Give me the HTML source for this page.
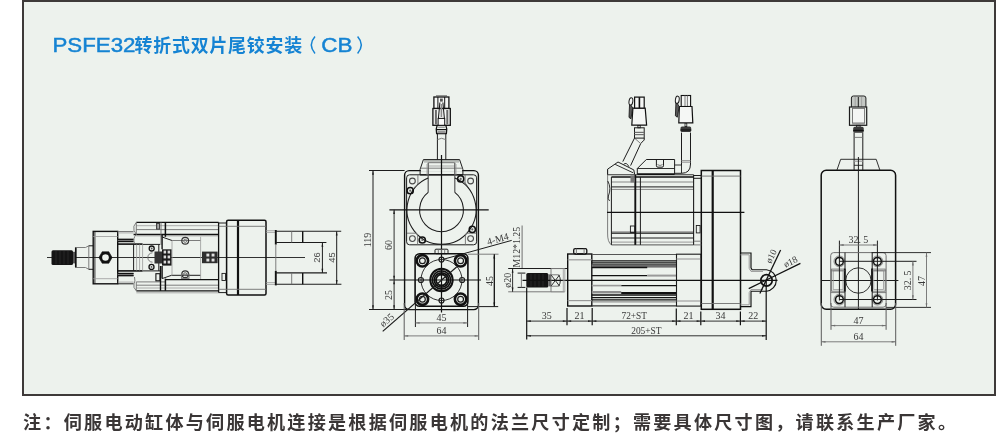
<!DOCTYPE html>
<html lang="zh-CN">
<head>
<meta charset="utf-8">
<title>PSFE32转折式双片尾铰安装（CB）</title>
<style>
html,body{margin:0;padding:0;background:#fff;}
body{width:1002px;height:434px;overflow:hidden;position:relative;font-family:"Liberation Sans",sans-serif;}
#frame{position:absolute;left:22px;top:0;width:970px;height:392px;border:2px solid #3e3a39;background:#edf2ed;}
svg{position:absolute;left:0;top:0;display:block;will-change:transform;}
svg path,svg line,svg rect,svg circle{stroke-linecap:butt;}
.t{position:absolute;margin:0;white-space:nowrap;color:transparent;font-family:"Liberation Sans",sans-serif;}
#title{left:54px;top:34px;font-size:17px;letter-spacing:1.9px;}
#note{left:23px;top:411px;font-size:17px;letter-spacing:3.33px;font-weight:bold;}
</style>
</head>
<body>
<div id="frame"></div>
<h1 class="t" id="title">PSFE32转折式双片尾铰安装（CB）</h1>
<p class="t" id="note">注：伺服电动缸体与伺服电机连接是根据伺服电机的法兰尺寸定制；需要具体尺寸图，请联系生产厂家。</p>
<svg width="1002" height="434" viewBox="0 0 1002 434" fill="none">
<text x="52.5" y="51.8" font-family="'Liberation Sans', serif" font-size="19.3" text-anchor="start" fill="#1583d3" textLength="83" lengthAdjust="spacingAndGlyphs" stroke="#1583d3" stroke-width="0.45">PSFE32</text>
<text x="134.5" y="51.8" font-family="'Liberation Sans', 'Noto Sans CJK SC', sans-serif" font-size="17.9" font-weight="bold" text-anchor="start" fill="#1583d3" textLength="167.7" lengthAdjust="spacing">转折式双片尾铰安装</text>
<path d="M315 36.6Q307.6 45 315 53.4" fill="none" stroke="#1583d3" stroke-width="1.5" />
<path d="M357.6 36.6Q365 45 357.6 53.4" fill="none" stroke="#1583d3" stroke-width="1.5" />
<text x="321.3" y="51.8" font-family="'Liberation Sans', serif" font-size="19.3" text-anchor="start" fill="#1583d3" textLength="31.2" lengthAdjust="spacingAndGlyphs" stroke="#1583d3" stroke-width="0.45">CB</text>
<text x="23.1" y="428.9" font-family="'Liberation Sans', 'Noto Sans CJK SC', sans-serif" font-size="18.1" font-weight="bold" text-anchor="start" fill="#3a3636" textLength="932.9" lengthAdjust="spacing">注：伺服电动缸体与伺服电机连接是根据伺服电机的法兰尺寸定制；需要具体尺寸图，请联系生产厂家。</text>
<path d="M47 257.5L305 257.5" stroke="#1c1c1c" stroke-width="0.9"/>
<rect x="51.5" y="250.2" width="21.5" height="14.8" rx="1.5" fill="#141414"/>
<path d="M56 251L56 264.3" stroke="#3a3a3a" stroke-width="0.5"/>
<path d="M60 251L60 264.3" stroke="#3a3a3a" stroke-width="0.5"/>
<path d="M64 251L64 264.3" stroke="#3a3a3a" stroke-width="0.5"/>
<path d="M68 251L68 264.3" stroke="#3a3a3a" stroke-width="0.5"/>
<rect x="73" y="251.8" width="2.3" height="11.6" fill="#555"/>
<path d="M75.8 247.3L75.8 267.6" stroke="#111" stroke-width="1.7"/>
<path d="M75.8 247.5L85.5 247.5" stroke="#6f6f6f" stroke-width="0.9"/>
<path d="M75.8 267.5L85.5 267.5" stroke="#6f6f6f" stroke-width="0.9"/>
<path d="M85.5 247.5L88.8 245.8" stroke="#6f6f6f" stroke-width="0.9"/>
<path d="M85.5 267.5L88.8 269.3" stroke="#6f6f6f" stroke-width="0.9"/>
<path d="M88.8 245.8L88.8 269.3" stroke="#6f6f6f" stroke-width="0.9"/>
<path d="M88.8 245.8L93.2 245.8" stroke="#1c1c1c" stroke-width="1"/>
<path d="M88.8 269.3L93.2 269.3" stroke="#1c1c1c" stroke-width="1"/>
<rect x="93.2" y="231.4" width="24.5" height="52.4" fill="none" stroke="#111" stroke-width="1.4"/>
<path d="M94.9 231.4L94.9 283.8" stroke="#1c1c1c" stroke-width="0.9"/>
<path d="M93.2 236.5L117.7 236.5" stroke="#999" stroke-width="0.8"/>
<path d="M93.2 278.7L117.7 278.7" stroke="#999" stroke-width="0.8"/>
<path d="M112.1 257.5L108.8 263.22L102.2 263.22L98.9 257.5L102.2 251.78L108.8 251.78Z" fill="#111" stroke="#111" stroke-width="0.6" />
<circle cx="105.5" cy="257.5" r="3.3" fill="#edf2ed"/>
<path d="M117.7 232.9L133.6 232.9" stroke="#999" stroke-width="0.8"/>
<path d="M117.7 282.1L133.6 282.1" stroke="#999" stroke-width="0.8"/>
<rect x="117.7" y="239.2" width="15.9" height="2.6" fill="#777"/>
<rect x="117.7" y="273.2" width="15.9" height="2.6" fill="#777"/>
<path d="M117.7 239.3L133.6 239.3" stroke="#111" stroke-width="1.3"/>
<path d="M117.7 241.6L133.6 241.6" stroke="#111" stroke-width="1.2"/>
<path d="M117.7 275.7L133.6 275.7" stroke="#111" stroke-width="1.3"/>
<path d="M117.7 273.4L133.6 273.4" stroke="#111" stroke-width="1.2"/>
<path d="M117.7 244.1L142.6 244.1" stroke="#111" stroke-width="1.6"/>
<path d="M117.7 270.9L142.6 270.9" stroke="#111" stroke-width="1.6"/>
<path d="M117.7 283.8L133.6 283.8" stroke="#1c1c1c" stroke-width="1"/>
<path d="M117.7 231.5L133.6 231.5" stroke="#6f6f6f" stroke-width="0.9"/>
<path d="M142.6 244.4L160 244.4" stroke="#1c1c1c" stroke-width="1"/>
<path d="M142.6 270.9L160 270.9" stroke="#1c1c1c" stroke-width="1"/>
<path d="M133.6 244.1L133.6 270.9" stroke="#1c1c1c" stroke-width="1"/>
<path d="M136.6 244.5L136.6 270.5" stroke="#999" stroke-width="0.8"/>
<path d="M139.6 244.5L139.6 270.5" stroke="#999" stroke-width="0.8"/>
<path d="M142.6 244.5L142.6 270.5" stroke="#999" stroke-width="0.8"/>
<path d="M136.3 222.4L218.6 222.4" stroke="#111" stroke-width="1.3"/>
<path d="M136.3 290.8L218.6 290.8" stroke="#111" stroke-width="1.3"/>
<path d="M136.3 225.7L218.6 225.7" stroke="#999" stroke-width="0.8"/>
<path d="M136.3 229.6L218.6 229.6" stroke="#6f6f6f" stroke-width="0.9"/>
<path d="M133.6 234.5L218.6 234.5" stroke="#111" stroke-width="1.4"/>
<path d="M136.3 235.9L218.6 235.9" stroke="#999" stroke-width="0.8"/>
<path d="M136.3 288L218.6 288" stroke="#999" stroke-width="0.8"/>
<path d="M136.3 285.2L218.6 285.2" stroke="#6f6f6f" stroke-width="0.9"/>
<path d="M165.4 279.7L218.6 279.7" stroke="#111" stroke-width="1.3"/>
<path d="M136.3 281.9L165.4 281.9" stroke="#6f6f6f" stroke-width="0.9"/>
<path d="M136.3 292.8L218.6 292.8" stroke="#999" stroke-width="0.8"/>
<path d="M136.3 222.4Q132.6 226 134 230.5Q135.6 233 136.3 234.5Q132.6 238 134.5 243.6" fill="none" stroke="#6f6f6f" stroke-width="0.9" />
<path d="M136.3 290.8Q132.8 287.5 134 283.8Q135.6 281.5 134.5 277" fill="none" stroke="#6f6f6f" stroke-width="0.9" />
<path d="M136.3 222.4L136.3 234.5" stroke="#6f6f6f" stroke-width="0.9"/>
<path d="M136.3 281.9L136.3 290.8" stroke="#6f6f6f" stroke-width="0.9"/>
<path d="M165.4 222.4L165.4 236.8" stroke="#111" stroke-width="1.5"/>
<path d="M165.4 278.6L165.4 290.8" stroke="#111" stroke-width="1.5"/>
<path d="M161 222.4L161 245" stroke="#6f6f6f" stroke-width="0.9"/>
<path d="M160.5 266L160.5 290.8" stroke="#111" stroke-width="1.4"/>
<rect x="156" y="223" width="4" height="6.6" fill="#444"/>
<rect x="157.2" y="224" width="1.8" height="4.6" fill="#aaa"/>
<rect x="155.9" y="273.7" width="4.1" height="7.1" fill="none" stroke="#111" stroke-width="1.1"/>
<path d="M158.8 244.4L158.8 270.9" stroke="#1c1c1c" stroke-width="1"/>
<path d="M162.1 234.5L162.1 249.3" stroke="#111" stroke-width="1.4"/>
<path d="M162.1 266L162.1 278.6" stroke="#111" stroke-width="1.4"/>
<path d="M162.1 237L172 240.5" stroke="#1c1c1c" stroke-width="1"/>
<path d="M162.1 278.6L171.5 275.3" stroke="#1c1c1c" stroke-width="1"/>
<path d="M172 240.5L200.6 240.5" stroke="#6f6f6f" stroke-width="0.9"/>
<path d="M171.5 275.3L200.6 275.3" stroke="#1c1c1c" stroke-width="1"/>
<path d="M172 240.5L172 275.3" stroke="#999" stroke-width="0.8"/>
<path d="M200.6 236.8L200.6 279" stroke="#999" stroke-width="0.8"/>
<circle cx="151.7" cy="248.5" r="2.5" fill="none" stroke="#111" stroke-width="1.3"/>
<circle cx="151.7" cy="248.5" r="0.9" fill="#555"/>
<circle cx="151.5" cy="266.9" r="2.5" fill="none" stroke="#111" stroke-width="1.3"/>
<circle cx="151.5" cy="266.9" r="0.9" fill="#555"/>
<circle cx="185.2" cy="240.8" r="3.4" fill="none" stroke="#333" stroke-width="1.2"/>
<circle cx="185.2" cy="240.8" r="1.6" fill="none" stroke="#6f6f6f" stroke-width="0.9"/>
<circle cx="185.2" cy="274.2" r="3.4" fill="none" stroke="#333" stroke-width="1.2"/>
<circle cx="185.2" cy="274.2" r="1.6" fill="none" stroke="#6f6f6f" stroke-width="0.9"/>
<rect x="181.4" y="274.2" width="7.6" height="4.2" fill="none" stroke="#6f6f6f" stroke-width="0.9"/>
<path d="M152.5 252.8A4.7 4.7 0 0 0 152.5 262.2" fill="none" stroke="#6f6f6f" stroke-width="0.9" />
<rect x="154.5" y="251.5" width="8" height="12" fill="#333"/>
<rect x="162" y="249.3" width="9.5" height="16.3" fill="#1a1a1a"/>
<rect x="163.6" y="250.6" width="2.5" height="2.9" fill="#d8d8d8"/>
<rect x="167.6" y="250.6" width="2.5" height="2.9" fill="#d8d8d8"/>
<rect x="163.6" y="255.5" width="2.5" height="2.9" fill="#d8d8d8"/>
<rect x="167.6" y="255.5" width="2.5" height="2.9" fill="#d8d8d8"/>
<rect x="163.6" y="260.6" width="2.5" height="2.9" fill="#d8d8d8"/>
<rect x="167.6" y="260.6" width="2.5" height="2.9" fill="#d8d8d8"/>
<rect x="202" y="251.6" width="15.6" height="11.6" fill="#2e2e2e"/>
<rect x="206.4" y="253.6" width="2.9" height="2.9" fill="#e0e0e0"/>
<rect x="211.6" y="253.6" width="2.9" height="2.9" fill="#e0e0e0"/>
<rect x="206.4" y="258.6" width="2.9" height="2.9" fill="#e0e0e0"/>
<rect x="211.6" y="258.6" width="2.9" height="2.9" fill="#e0e0e0"/>
<path d="M218.6 222.4L218.6 292.6" stroke="#111" stroke-width="1.3"/>
<path d="M218.6 223L226.6 223" stroke="#1c1c1c" stroke-width="1"/>
<path d="M218.6 292.6L226.6 292.6" stroke="#1c1c1c" stroke-width="1"/>
<rect x="226.6" y="220.2" width="39.4" height="74.8" rx="1.5" fill="none" stroke="#111" stroke-width="1.5"/>
<path d="M238 220.2L238 295" stroke="#111" stroke-width="2.2"/>
<path d="M218.6 226.3L266 226.3" stroke="#6f6f6f" stroke-width="0.9"/>
<path d="M218.6 289.3L266 289.3" stroke="#6f6f6f" stroke-width="0.9"/>
<rect x="222" y="273.4" width="3.5" height="7.1" fill="none" stroke="#1c1c1c" stroke-width="0.9"/>
<path d="M266 230.7L275.8 230.7" stroke="#999" stroke-width="0.8"/>
<path d="M266 232.4L275.8 232.4" stroke="#999" stroke-width="0.8"/>
<path d="M266 282.6L275.8 282.6" stroke="#999" stroke-width="0.8"/>
<path d="M266 284.4L275.8 284.4" stroke="#999" stroke-width="0.8"/>
<path d="M275.8 230L275.8 244.6" stroke="#111" stroke-width="1.9"/>
<path d="M275.8 270.8L275.8 285.4" stroke="#111" stroke-width="1.9"/>
<path d="M275.8 244.6L275.8 270.8" stroke="#6f6f6f" stroke-width="0.9"/>
<path d="M275.8 231.3L341.2 231.3" stroke="#1c1c1c" stroke-width="1.1"/>
<path d="M275.8 242.5L326.4 242.5" stroke="#1c1c1c" stroke-width="1.1"/>
<path d="M275.8 272.9L327 272.9" stroke="#1c1c1c" stroke-width="1.1"/>
<path d="M275.8 284.2L341.4 284.2" stroke="#1c1c1c" stroke-width="1.1"/>
<path d="M291.7 231.3L291.7 242.5" stroke="#6f6f6f" stroke-width="0.9"/>
<path d="M302.7 231.3L302.7 242.5" stroke="#111" stroke-width="1.4"/>
<path d="M291.7 272.9L291.7 284.2" stroke="#6f6f6f" stroke-width="0.9"/>
<path d="M302.7 272.9L302.7 284.2" stroke="#111" stroke-width="1.4"/>
<path d="M322.4 242.5L322.4 272.9" stroke="#1c1c1c" stroke-width="1"/>
<path d="M322.4 242.5L321.5 246.7L323.3 246.7Z" fill="#1c1c1c"/>
<path d="M322.4 272.9L321.5 268.7L323.3 268.7Z" fill="#1c1c1c"/>
<path d="M336.7 231.3L336.7 284.2" stroke="#1c1c1c" stroke-width="1"/>
<path d="M336.7 231.3L335.8 235.5L337.6 235.5Z" fill="#1c1c1c"/>
<path d="M336.7 284.2L335.8 280L337.6 280Z" fill="#1c1c1c"/>
<text x="0" y="0" transform="translate(320.4 257.5) rotate(-90)" font-family="'Liberation Sans', serif" font-size="9.4" text-anchor="middle" fill="#4c4c4c">26</text>
<text x="0" y="0" transform="translate(334.8 257.5) rotate(-90)" font-family="'Liberation Sans', serif" font-size="9.4" text-anchor="middle" fill="#4c4c4c">45</text>
<path d="M436 95.7L447 95.7" stroke="#6f6f6f" stroke-width="0.9"/>
<rect x="433.9" y="97" width="15" height="11.5" fill="#f5f7f5" stroke="#111" stroke-width="1.3"/>
<path d="M437.9 97L437.9 108.5" stroke="#111" stroke-width="1"/>
<path d="M444.7 97L444.7 108.5" stroke="#111" stroke-width="1"/>
<rect x="440" y="98.6" width="2.8" height="3" fill="#555"/>
<rect x="432.9" y="108.5" width="17.4" height="16.8" fill="#f5f7f5" stroke="#111" stroke-width="1.3"/>
<rect x="434.9" y="110" width="2" height="14.4" fill="#6a6a6a"/>
<rect x="446.3" y="110" width="2" height="14.4" fill="#6a6a6a"/>
<path d="M439.9 102.5L438.4 118.4M442.9 102.5L444.4 118.4" fill="none" stroke="#111" stroke-width="1" />
<rect x="440.6" y="104" width="1.6" height="13" fill="#8a8a8a"/>
<rect x="438.1" y="118.4" width="6.6" height="6.9" fill="#fafbfa" stroke="#111" stroke-width="1"/>
<path d="M437.2 125.3Q435.4 129.5 436.6 133.5L446.4 133.5Q447.6 129.5 445.8 125.3" fill="none" stroke="#111" stroke-width="1.3" />
<path d="M438.2 127.2L444.8 127.2" stroke="#6f6f6f" stroke-width="0.9"/>
<path d="M436.2 129.6L446.8 129.6" stroke="#111" stroke-width="1.2"/>
<rect x="437.6" y="131" width="8" height="2.3" fill="#999"/>
<path d="M437.4 133.5L437.4 160" stroke="#1c1c1c" stroke-width="1"/>
<path d="M445.8 133.5L445.8 160" stroke="#1c1c1c" stroke-width="1"/>
<path d="M437.4 139.6Q441.6 137 445.8 139.6" fill="none" stroke="#6f6f6f" stroke-width="0.9" />
<rect x="404.6" y="170.6" width="73.8" height="139" rx="4.5" fill="none" stroke="#111" stroke-width="1.4"/>
<rect x="406.6" y="174.8" width="70" height="70" rx="3" fill="none" stroke="#1c1c1c" stroke-width="1"/>
<path d="M420.8 170.6L462.2 170.6" stroke="#edf2ed" stroke-width="2.2"/>
<path d="M420.1 174.8L462.9 174.8" stroke="#111" stroke-width="1.3"/>
<rect x="424" y="159.6" width="35" height="3.1" fill="#b9bdb9"/>
<path d="M420.1 174.8L420.1 169.3L423.4 159.6L459.6 159.6L462.9 169.3L462.9 174.8" fill="none" stroke="#1c1c1c" stroke-width="1" />
<path d="M428.4 162.7L454.6 162.7" stroke="#6f6f6f" stroke-width="0.9"/>
<path d="M420.4 168.2L462.6 168.2" stroke="#6f6f6f" stroke-width="0.9"/>
<path d="M428.4 166L454.6 166" stroke="#999" stroke-width="0.8"/>
<path d="M428.2 162.7L428.2 192.4" stroke="#555" stroke-width="1.2"/>
<path d="M454.8 162.7L454.8 192.4" stroke="#555" stroke-width="1.2"/>
<path d="M427 164L427 174.8" stroke="#999" stroke-width="0.8"/>
<path d="M456 164L456 174.8" stroke="#999" stroke-width="0.8"/>
<path d="M441.5 155L441.5 312.5" stroke="#111" stroke-width="1.2"/>
<path d="M428.2 177.97A34.5 34.5 0 1 0 454.8 177.97" fill="none" stroke="#1c1c1c" stroke-width="1.05" />
<path d="M417.9 174.8L417.9 184.63" stroke="#6f6f6f" stroke-width="0.9"/>
<path d="M465.1 174.8L465.1 184.63" stroke="#6f6f6f" stroke-width="0.9"/>
<path d="M428.2 192.4A21.9 21.9 0 1 0 454.8 192.4" fill="none" stroke="#1c1c1c" stroke-width="1.05" />
<circle cx="412.4" cy="181" r="2.9" fill="none" stroke="#4a4a4a" stroke-width="1.1"/>
<circle cx="412.4" cy="238.6" r="2.9" fill="none" stroke="#4a4a4a" stroke-width="1.1"/>
<circle cx="470.6" cy="181" r="2.9" fill="none" stroke="#4a4a4a" stroke-width="1.1"/>
<circle cx="470.6" cy="238.6" r="2.9" fill="none" stroke="#4a4a4a" stroke-width="1.1"/>
<path d="M407 233.2L416 233.2" stroke="#6f6f6f" stroke-width="0.9"/>
<path d="M467 233.2L476.2 233.2" stroke="#6f6f6f" stroke-width="0.9"/>
<path d="M417.6 236L417.6 244.8" stroke="#6f6f6f" stroke-width="0.9"/>
<path d="M465.4 236L465.4 244.8" stroke="#6f6f6f" stroke-width="0.9"/>
<path d="M416 233.2Q417.6 233.4 417.6 236" fill="none" stroke="#6f6f6f" stroke-width="0.9" />
<path d="M467 233.2Q465.4 233.4 465.4 236" fill="none" stroke="#6f6f6f" stroke-width="0.9" />
<circle cx="410.2" cy="190.7" r="3.1" fill="none" stroke="#111" stroke-width="1.5"/>
<circle cx="410.2" cy="190.7" r="1.1" fill="#666"/>
<circle cx="460.7" cy="178.9" r="3.1" fill="none" stroke="#111" stroke-width="1.5"/>
<circle cx="460.7" cy="178.9" r="1.1" fill="#666"/>
<circle cx="472.3" cy="229.4" r="3.1" fill="none" stroke="#111" stroke-width="1.5"/>
<circle cx="472.3" cy="229.4" r="1.1" fill="#666"/>
<circle cx="422.3" cy="240" r="3.1" fill="none" stroke="#111" stroke-width="1.5"/>
<circle cx="422.3" cy="240" r="1.1" fill="#666"/>
<path d="M413.2 188.6L416.8 185.2" stroke="#6f6f6f" stroke-width="0.9"/>
<path d="M463.6 181.2L467.4 185.6" stroke="#6f6f6f" stroke-width="0.9"/>
<path d="M389.4 209.8L488.7 209.8" stroke="#111" stroke-width="1.2"/>
<rect x="435" y="249.2" width="13" height="4.5" rx="1" fill="none" stroke="#1c1c1c" stroke-width="1"/>
<path d="M438.3 249.2L438.3 253.7" stroke="#6f6f6f" stroke-width="0.9"/>
<path d="M441.5 249.2L441.5 253.7" stroke="#6f6f6f" stroke-width="0.9"/>
<path d="M444.7 249.2L444.7 253.7" stroke="#6f6f6f" stroke-width="0.9"/>
<rect x="415.1" y="253.7" width="52.8" height="52.6" rx="4.5" fill="none" stroke="#111" stroke-width="1.6"/>
<circle cx="441.5" cy="280" r="20.5" fill="none" stroke="#1c1c1c" stroke-width="0.9"/>
<circle cx="441.5" cy="259.6" r="2.5" fill="none" stroke="#1c1c1c" stroke-width="1.2"/>
<circle cx="441.5" cy="300.5" r="2.5" fill="none" stroke="#1c1c1c" stroke-width="1.2"/>
<circle cx="420.9" cy="280" r="2.5" fill="none" stroke="#1c1c1c" stroke-width="1.2"/>
<circle cx="462.1" cy="280" r="2.5" fill="none" stroke="#1c1c1c" stroke-width="1.2"/>
<circle cx="422.4" cy="260.8" r="5.7" fill="none" stroke="#111" stroke-width="2.6"/>
<circle cx="422.4" cy="260.8" r="2.9" fill="none" stroke="#1c1c1c" stroke-width="1.2"/>
<circle cx="422.4" cy="299.2" r="5.7" fill="none" stroke="#111" stroke-width="2.6"/>
<circle cx="422.4" cy="299.2" r="2.9" fill="none" stroke="#1c1c1c" stroke-width="1.2"/>
<circle cx="460.6" cy="260.8" r="5.7" fill="none" stroke="#111" stroke-width="2.6"/>
<circle cx="460.6" cy="260.8" r="2.9" fill="none" stroke="#1c1c1c" stroke-width="1.2"/>
<circle cx="460.6" cy="299.2" r="5.7" fill="none" stroke="#111" stroke-width="2.6"/>
<circle cx="460.6" cy="299.2" r="2.9" fill="none" stroke="#1c1c1c" stroke-width="1.2"/>
<circle cx="441.5" cy="280" r="11.2" fill="none" stroke="#111" stroke-width="2"/>
<circle cx="441.5" cy="280" r="9.1" fill="none" stroke="#111" stroke-width="1.7"/>
<circle cx="441.5" cy="280" r="7.2" fill="none" stroke="#111" stroke-width="1.7"/>
<circle cx="441.5" cy="280" r="5.5" fill="none" stroke="#111" stroke-width="1.8"/>
<path d="M389.4 280L481 280" stroke="#111" stroke-width="1.2"/>
<path d="M382.7 331.4L456.6 267" stroke="#1c1c1c" stroke-width="1.2"/>
<text x="0" y="0" transform="translate(389 322.6) rotate(-41)" font-family="'Liberation Serif', serif" font-size="10" text-anchor="middle" fill="#383838">ø35</text>
<path d="M369 170.5L404.6 170.5" stroke="#1c1c1c" stroke-width="1"/>
<path d="M369 309.5L415.5 309.5" stroke="#1c1c1c" stroke-width="1"/>
<path d="M373 170.5L373 309.5" stroke="#1c1c1c" stroke-width="1"/>
<path d="M373 170.5L372.1 174.7L373.9 174.7Z" fill="#1c1c1c"/>
<path d="M373 309.5L372.1 305.3L373.9 305.3Z" fill="#1c1c1c"/>
<text x="0" y="0" transform="translate(371 240) rotate(-90)" font-family="'Liberation Serif', serif" font-size="10" text-anchor="middle" fill="#383838">119</text>
<path d="M394.1 209.8L394.1 280" stroke="#1c1c1c" stroke-width="0.9"/>
<path d="M394.1 209.8L393.2 214L395 214Z" fill="#1c1c1c"/>
<path d="M394.1 280L393.2 275.8L395 275.8Z" fill="#1c1c1c"/>
<path d="M394.1 280L394.1 309.5" stroke="#1c1c1c" stroke-width="0.9"/>
<path d="M394.1 280L393.2 284.2L395 284.2Z" fill="#1c1c1c"/>
<path d="M394.1 309.5L393.2 305.3L395 305.3Z" fill="#1c1c1c"/>
<text x="0" y="0" transform="translate(392.2 245) rotate(-90)" font-family="'Liberation Serif', serif" font-size="10" text-anchor="middle" fill="#383838">60</text>
<text x="0" y="0" transform="translate(392.2 295) rotate(-90)" font-family="'Liberation Serif', serif" font-size="10" text-anchor="middle" fill="#383838">25</text>
<path d="M468 254.2L498.5 254.2" stroke="#6f6f6f" stroke-width="0.9"/>
<path d="M468 306.6L498.2 306.6" stroke="#1c1c1c" stroke-width="1"/>
<path d="M494.3 254.2L494.3 306.6" stroke="#111" stroke-width="1.3"/>
<path d="M494.3 254.2L493.4 258.4L495.2 258.4Z" fill="#111"/>
<path d="M494.3 306.6L493.4 302.4L495.2 302.4Z" fill="#111"/>
<text x="0" y="0" transform="translate(492.6 281) rotate(-90)" font-family="'Liberation Serif', serif" font-size="10" text-anchor="middle" fill="#383838">45</text>
<path d="M415.4 303L415.4 327" stroke="#1c1c1c" stroke-width="1"/>
<path d="M467.6 303L467.6 327" stroke="#1c1c1c" stroke-width="1"/>
<path d="M415.4 322.9L467.6 322.9" stroke="#6f6f6f" stroke-width="0.9"/>
<path d="M415.4 322.9L419.6 322L419.6 323.8Z" fill="#6f6f6f"/>
<path d="M467.6 322.9L463.4 322L463.4 323.8Z" fill="#6f6f6f"/>
<text x="441.5" y="320.7" font-family="'Liberation Serif', serif" font-size="10" text-anchor="middle" fill="#383838">45</text>
<path d="M404.2 303L404.2 340" stroke="#5a5a5a" stroke-width="1"/>
<path d="M478.7 303L478.7 340" stroke="#5a5a5a" stroke-width="1"/>
<path d="M404 335.9L478.8 335.9" stroke="#6f6f6f" stroke-width="0.9"/>
<path d="M404 335.9L408.2 335L408.2 336.8Z" fill="#6f6f6f"/>
<path d="M478.8 335.9L474.6 335L474.6 336.8Z" fill="#6f6f6f"/>
<text x="441.5" y="333.7" font-family="'Liberation Serif', serif" font-size="10" text-anchor="middle" fill="#383838">64</text>
<path d="M444 259.1L511.7 240.4" stroke="#1c1c1c" stroke-width="1"/>
<text x="0" y="0" transform="translate(498.6 242.2) rotate(-15.4)" font-family="'Liberation Serif', serif" font-size="10" text-anchor="middle" fill="#383838">4-M4</text>
<path d="M522.1 225.5L522.1 268.5" stroke="#6f6f6f" stroke-width="1"/>
<text x="0" y="0" transform="translate(520.3 247.2) rotate(-90)" font-family="'Liberation Serif', serif" font-size="10" text-anchor="middle" fill="#383838" textLength="40.5" lengthAdjust="spacingAndGlyphs">M12*1.25</text>
<path d="M508.2 268.5L567.5 268.5" stroke="#1c1c1c" stroke-width="1"/>
<path d="M508.2 291.8L564.5 291.8" stroke="#7a7a7a" stroke-width="1"/>
<path d="M512.6 268.5L512.6 291.8" stroke="#1c1c1c" stroke-width="0.9"/>
<path d="M512.6 268.5L511.7 272.7L513.5 272.7Z" fill="#1c1c1c"/>
<path d="M512.6 291.8L511.7 287.6L513.5 287.6Z" fill="#1c1c1c"/>
<text x="0" y="0" transform="translate(510.8 280.2) rotate(-90)" font-family="'Liberation Serif', serif" font-size="10" text-anchor="middle" fill="#383838">ø20</text>
<path d="M517.6 273.1L525.4 273.1" stroke="#1c1c1c" stroke-width="1"/>
<path d="M517.6 287.4L525.4 287.4" stroke="#1c1c1c" stroke-width="1"/>
<path d="M521.4 273.1L521.4 287.4" stroke="#6f6f6f" stroke-width="0.9"/>
<rect x="526.3" y="273.1" width="22" height="14.4" rx="1.5" fill="#141414"/>
<path d="M531 274L531 286.6" stroke="#3a3a3a" stroke-width="0.5"/>
<path d="M535 274L535 286.6" stroke="#3a3a3a" stroke-width="0.5"/>
<path d="M539 274L539 286.6" stroke="#3a3a3a" stroke-width="0.5"/>
<path d="M543 274L543 286.6" stroke="#3a3a3a" stroke-width="0.5"/>
<rect x="548.3" y="274.4" width="2.7" height="12" fill="#666"/>
<path d="M522.5 280.4L777.5 280.4" stroke="#111" stroke-width="1.2"/>
<path d="M551 268.6L564.8 268.6" stroke="#999" stroke-width="0.8"/>
<path d="M551 291.8L564.8 291.8" stroke="#999" stroke-width="0.8"/>
<path d="M551 268.5L551 291.8" stroke="#6f6f6f" stroke-width="0.9"/>
<path d="M564.8 268.5L564.8 291.8" stroke="#999" stroke-width="0.8"/>
<path d="M563.3 268.5L563.3 291.8" stroke="#999" stroke-width="0.8"/>
<path d="M551 274.8L559.6 286.2" stroke="#1c1c1c" stroke-width="0.9"/>
<path d="M551 286.2L559.6 274.8" stroke="#1c1c1c" stroke-width="0.9"/>
<path d="M558.6 274.8Q562.2 280.4 558.6 286.2" fill="none" stroke="#1c1c1c" stroke-width="0.9" />
<path d="M551 274.8L558.6 274.8" stroke="#6f6f6f" stroke-width="0.9"/>
<path d="M551 286.2L558.6 286.2" stroke="#6f6f6f" stroke-width="0.9"/>
<rect x="567.7" y="254" width="24.1" height="52" fill="none" stroke="#111" stroke-width="1.4"/>
<path d="M567.7 259.8L591.8 259.8" stroke="#999" stroke-width="1.2"/>
<path d="M567.7 300.6L591.8 300.6" stroke="#999" stroke-width="1.2"/>
<rect x="573.7" y="248.6" width="13.1" height="5.4" rx="1.5" fill="none" stroke="#111" stroke-width="1.3"/>
<path d="M576.4 248.6L576.4 254" stroke="#6f6f6f" stroke-width="0.9"/>
<path d="M584.1 248.6L584.1 254" stroke="#6f6f6f" stroke-width="0.9"/>
<path d="M591.8 254.5L676.4 254.5" stroke="#555" stroke-width="1"/>
<path d="M591.8 305.9L676.4 305.9" stroke="#333" stroke-width="1.1"/>
<path d="M591.8 260.8L676.4 260.8" stroke="#111" stroke-width="1.3"/>
<path d="M591.8 262.8L676.4 262.8" stroke="#111" stroke-width="1.3"/>
<rect x="591.8" y="264.2" width="84.6" height="3.4" fill="#6e6e6e"/>
<path d="M591.8 267.5L647.2 267.5" stroke="#111" stroke-width="1.5"/>
<path d="M591.8 264.6L676.4 264.6" stroke="#444" stroke-width="0.8"/>
<path d="M591.8 275.6L647.2 275.6" stroke="#111" stroke-width="1.3"/>
<rect x="647.2" y="274.6" width="29.2" height="2" fill="#9a9a9a"/>
<path d="M621.2 285.6L676.4 285.6" stroke="#111" stroke-width="1.2"/>
<rect x="591.8" y="284.8" width="29.4" height="1.6" fill="#9a9a9a"/>
<rect x="591.8" y="291" width="29.4" height="2.4" fill="#8e8e8e"/>
<path d="M621.2 292.9L676.4 292.9" stroke="#111" stroke-width="2"/>
<path d="M591.8 295L676.4 295" stroke="#111" stroke-width="1.3"/>
<path d="M591.8 297.6L676.4 297.6" stroke="#111" stroke-width="1.3"/>
<path d="M591.8 299.8L676.4 299.8" stroke="#111" stroke-width="1.2"/>
<path d="M591.8 301.9L676.4 301.9" stroke="#6f6f6f" stroke-width="0.9"/>
<rect x="676.5" y="254.2" width="24.5" height="51.9" fill="none" stroke="#1c1c1c" stroke-width="1.1"/>
<path d="M676.5 259L701 259" stroke="#999" stroke-width="1.1"/>
<path d="M676.5 301L701 301" stroke="#999" stroke-width="1.1"/>
<rect x="701.3" y="170.5" width="39.2" height="138.8" fill="none" stroke="#111" stroke-width="1.5"/>
<path d="M712.7 170.5L712.7 309.3" stroke="#111" stroke-width="2.2"/>
<path d="M701.3 176.1L740.5 176.1" stroke="#6f6f6f" stroke-width="0.9"/>
<path d="M701.3 303.5L740.5 303.5" stroke="#6f6f6f" stroke-width="0.9"/>
<path d="M740.5 253H751V267.9L752 269.7H766.5A10.8 10.8 0 0 1 766.5 291.2H751V306.6H740.5" fill="none" stroke="#111" stroke-width="1.15" />
<path d="M740.5 254.8H749.2V268.4L751 271.4H763" fill="none" stroke="#999" stroke-width="1" />
<path d="M740.5 304.8H749.2V292.6L751 289.6H763" fill="none" stroke="#999" stroke-width="1" />
<circle cx="766.5" cy="280.4" r="5.7" fill="none" stroke="#111" stroke-width="1.7"/>
<path d="M759.9 293.4L780.6 250" stroke="#111" stroke-width="1.25"/>
<path d="M748.7 288.6L800.4 263.4" stroke="#111" stroke-width="1.25"/>
<text x="0" y="0" transform="translate(774 257.6) rotate(-64.5)" font-family="'Liberation Serif', serif" font-size="9.5" text-anchor="middle" fill="#383838">ø10</text>
<text x="0" y="0" transform="translate(791.8 264.6) rotate(-26)" font-family="'Liberation Serif', serif" font-size="9.5" text-anchor="middle" fill="#383838">ø18</text>
<path d="M766.2 281L766.2 340" stroke="#111" stroke-width="1.2"/>
<path d="M526.7 287.4L526.7 339.5" stroke="#111" stroke-width="1.2"/>
<path d="M567 308L567 325.3" stroke="#111" stroke-width="1.2"/>
<path d="M592.2 308L592.2 325.3" stroke="#111" stroke-width="1.2"/>
<path d="M676.3 308.4L676.3 325.3" stroke="#111" stroke-width="1.2"/>
<path d="M700.8 311.4L700.8 325.3" stroke="#111" stroke-width="1.2"/>
<path d="M740.4 311.4L740.4 325.3" stroke="#111" stroke-width="1.2"/>
<path d="M526.7 321.1L567 321.1" stroke="#1c1c1c" stroke-width="0.9"/>
<path d="M526.7 321.1L530.9 320.2L530.9 322Z" fill="#1c1c1c"/>
<path d="M567 321.1L562.8 320.2L562.8 322Z" fill="#1c1c1c"/>
<path d="M567 321.1L592.2 321.1" stroke="#1c1c1c" stroke-width="0.9"/>
<path d="M567 321.1L571.2 320.2L571.2 322Z" fill="#1c1c1c"/>
<path d="M592.2 321.1L588 320.2L588 322Z" fill="#1c1c1c"/>
<path d="M592.2 321.1L676.3 321.1" stroke="#1c1c1c" stroke-width="0.9"/>
<path d="M592.2 321.1L596.4 320.2L596.4 322Z" fill="#1c1c1c"/>
<path d="M676.3 321.1L672.1 320.2L672.1 322Z" fill="#1c1c1c"/>
<path d="M676.3 321.1L700.8 321.1" stroke="#1c1c1c" stroke-width="0.9"/>
<path d="M676.3 321.1L680.5 320.2L680.5 322Z" fill="#1c1c1c"/>
<path d="M700.8 321.1L696.6 320.2L696.6 322Z" fill="#1c1c1c"/>
<path d="M700.8 321.1L740.4 321.1" stroke="#1c1c1c" stroke-width="0.9"/>
<path d="M700.8 321.1L705 320.2L705 322Z" fill="#1c1c1c"/>
<path d="M740.4 321.1L736.2 320.2L736.2 322Z" fill="#1c1c1c"/>
<path d="M740.4 321.1L766.2 321.1" stroke="#1c1c1c" stroke-width="0.9"/>
<path d="M740.4 321.1L744.6 320.2L744.6 322Z" fill="#1c1c1c"/>
<path d="M766.2 321.1L762 320.2L762 322Z" fill="#1c1c1c"/>
<path d="M526.7 335.8L766.2 335.8" stroke="#1c1c1c" stroke-width="0.9"/>
<path d="M526.7 335.8L530.9 334.9L530.9 336.7Z" fill="#1c1c1c"/>
<path d="M766.2 335.8L762 334.9L762 336.7Z" fill="#1c1c1c"/>
<text x="546.85" y="318.9" font-family="'Liberation Serif', serif" font-size="10" text-anchor="middle" fill="#383838">35</text>
<text x="579.6" y="318.9" font-family="'Liberation Serif', serif" font-size="10" text-anchor="middle" fill="#383838">21</text>
<text x="634.25" y="318.9" font-family="'Liberation Serif', serif" font-size="10" text-anchor="middle" fill="#383838" textLength="25.4" lengthAdjust="spacingAndGlyphs">72+ST</text>
<text x="688.55" y="318.9" font-family="'Liberation Serif', serif" font-size="10" text-anchor="middle" fill="#383838">21</text>
<text x="720.6" y="318.9" font-family="'Liberation Serif', serif" font-size="10" text-anchor="middle" fill="#383838">34</text>
<text x="753.3" y="318.9" font-family="'Liberation Serif', serif" font-size="10" text-anchor="middle" fill="#383838">22</text>
<text x="646.4" y="333.6" font-family="'Liberation Serif', serif" font-size="10" text-anchor="middle" fill="#383838" textLength="30.4" lengthAdjust="spacingAndGlyphs">205+ST</text>
<path d="M607.6 174.8L693.6 174.8" stroke="#333" stroke-width="1.1"/>
<path d="M611.4 177L693.6 177" stroke="#111" stroke-width="1.4"/>
<path d="M611.4 182L693.6 182" stroke="#888" stroke-width="1.2"/>
<path d="M611.4 186.9L693.6 186.9" stroke="#444" stroke-width="1.1"/>
<path d="M611.4 189.4L693.6 189.4" stroke="#888" stroke-width="1"/>
<path d="M611.4 244.9L693.6 244.9" stroke="#555" stroke-width="1"/>
<path d="M611.4 242.1L693.6 242.1" stroke="#999" stroke-width="1"/>
<path d="M611.4 238L693.6 238" stroke="#1c1c1c" stroke-width="1"/>
<path d="M611.4 233.1L693.6 233.1" stroke="#111" stroke-width="1.4"/>
<path d="M611.4 231.5L693.6 231.5" stroke="#999" stroke-width="0.8"/>
<path d="M607.6 169.2V233Q607.4 242 611.4 244.9" fill="none" stroke="#6f6f6f" stroke-width="0.9" />
<path d="M607.8 181Q611.6 188 608.4 196Q607.6 199 609.6 201" fill="none" stroke="#1c1c1c" stroke-width="0.9" />
<path d="M611.4 177L611.4 244.9" stroke="#1c1c1c" stroke-width="1"/>
<path d="M635.3 174.8L635.3 244.9" stroke="#111" stroke-width="1.9"/>
<path d="M640.4 177L640.4 244.9" stroke="#1c1c1c" stroke-width="1"/>
<path d="M693.6 174.8L693.6 244.9" stroke="#1c1c1c" stroke-width="1.1"/>
<rect x="630.5" y="175.4" width="4.1" height="7.1" fill="#777"/>
<rect x="630.4" y="226" width="4.4" height="6.5" fill="none" stroke="#1c1c1c" stroke-width="0.9"/>
<rect x="696.3" y="225.5" width="3.8" height="7.4" fill="none" stroke="#1c1c1c" stroke-width="0.9"/>
<path d="M693.6 175.5L701.3 175.5" stroke="#1c1c1c" stroke-width="1"/>
<path d="M693.6 178.3L701.3 178.3" stroke="#1c1c1c" stroke-width="1"/>
<path d="M693.6 241.2L701.3 241.2" stroke="#6f6f6f" stroke-width="0.9"/>
<path d="M693.6 244.9L701.3 244.9" stroke="#6f6f6f" stroke-width="0.9"/>
<path d="M607 212.3L744.4 212.3" stroke="#111" stroke-width="1.2"/>
<path d="M607.6 174.7L607.6 169.2L618 162L633.8 169.9L634.6 174.3" fill="none" stroke="#1c1c1c" stroke-width="1" />
<path d="M615.2 164.4L633.2 172.8" stroke="#1c1c1c" stroke-width="0.9"/>
<path d="M623.6 164.4Q626.4 161.6 629 166.8" fill="none" stroke="#1c1c1c" stroke-width="0.9" />
<path d="M634.5 138.1L622.8 161.6" stroke="#1c1c1c" stroke-width="1"/>
<path d="M643.9 140.2L640.7 143.6L630.6 165.6" fill="none" stroke="#1c1c1c" stroke-width="1" />
<path d="M634.5 138.1L640.7 143.6" stroke="#6f6f6f" stroke-width="0.9"/>
<rect x="634.5" y="127.8" width="9.7" height="10.3" fill="none" stroke="#1c1c1c" stroke-width="1"/>
<path d="M644.2 138.1V140.2" fill="none" stroke="#1c1c1c" stroke-width="1" />
<path d="M634.5 132.4L644.2 132.4" stroke="#6f6f6f" stroke-width="1.2"/>
<path d="M634.5 134.6L644.2 134.6" stroke="#6f6f6f" stroke-width="1.2"/>
<rect x="637.9" y="125.1" width="2.3" height="2.7" fill="none" stroke="#1c1c1c" stroke-width="0.9"/>
<path d="M632.9 108.1L645.2 108.1L646.6 125.1L631.8 125.1Z" fill="#f5f7f5" stroke="#111" stroke-width="1.2" />
<rect x="634.6" y="97.1" width="9.6" height="11" fill="#f5f7f5" stroke="#111" stroke-width="1.2"/>
<path d="M639.4 97.1L639.4 108.1" stroke="#111" stroke-width="1.6"/>
<path d="M629.6 102.9L629 117.4L630.9 118.8L632.7 108.1Z" fill="#5a5a5a" stroke="#1c1c1c" stroke-width="0.9" />
<ellipse cx="630.9" cy="101.4" rx="1.9" ry="3.7" transform="rotate(8 630.9 101.4)" fill="#f5f7f5" stroke="#1c1c1c" stroke-width="1"/>
<path d="M637.3 174L637.3 168.5L646.3 159.5L674.6 159.5L674.6 174" fill="none" stroke="#1c1c1c" stroke-width="1" />
<path d="M637.3 174.1L674.6 174.1" stroke="#111" stroke-width="1.6"/>
<path d="M637.3 168.5L674.6 168.5" stroke="#1c1c1c" stroke-width="0.9"/>
<path d="M656.4 159.5V165.8Q656.4 167.2 658 167.2H662Q663.5 167.2 663.5 165.8V159.5" fill="none" stroke="#1c1c1c" stroke-width="1" />
<path d="M657.4 164.6Q660 166.4 662.6 164.6" fill="none" stroke="#6f6f6f" stroke-width="0.9" />
<path d="M681.5 132.6V165" fill="none" stroke="#1c1c1c" stroke-width="1" />
<path d="M690.5 132.6V164Q690.5 173.3 681.5 173.3H674.6" fill="none" stroke="#1c1c1c" stroke-width="1" />
<path d="M674.6 165L681.5 165" stroke="#1c1c1c" stroke-width="0.9"/>
<path d="M681.5 165L681.5 173.3" stroke="#1c1c1c" stroke-width="0.9"/>
<path d="M681.5 160.6L690.5 160.6" stroke="#999" stroke-width="1.1"/>
<path d="M681.5 162.2L690.5 162.2" stroke="#999" stroke-width="1.1"/>
<rect x="680.5" y="126.6" width="10.7" height="5.3" rx="1.5" fill="#3a3a3a"/>
<path d="M680.5 130L691.2 130" stroke="#111" stroke-width="1.2"/>
<rect x="685" y="123" width="1.8" height="3.6" fill="none" stroke="#1c1c1c" stroke-width="0.8"/>
<rect x="681.2" y="95.5" width="9.4" height="11" fill="#f5f7f5" stroke="#111" stroke-width="1.1"/>
<path d="M685 95.5L685 106.5" stroke="#6f6f6f" stroke-width="0.9"/>
<path d="M687.4 95.5L687.4 106.5" stroke="#6f6f6f" stroke-width="0.9"/>
<path d="M679.4 106.5L692 106.5L692.8 122.9L678.8 122.9Z" fill="#f5f7f5" stroke="#111" stroke-width="1.2" />
<path d="M676 101.3L675.4 115.8L677.3 117.2L679.2 106.5Z" fill="#5a5a5a" stroke="#1c1c1c" stroke-width="0.9" />
<ellipse cx="677.3" cy="99.8" rx="1.9" ry="3.7" transform="rotate(8 677.3 99.8)" fill="#f5f7f5" stroke="#1c1c1c" stroke-width="1"/>
<rect x="852" y="96.4" width="13.4" height="10.6" fill="#c4c8c4"/>
<path d="M851.4 107V98Q851.4 96 853.4 96H863.9Q865.9 96 865.9 98V107" fill="none" stroke="#1c1c1c" stroke-width="1" />
<path d="M858.3 97L858.3 107" stroke="#1c1c1c" stroke-width="1"/>
<path d="M855.2 97L855.2 107" stroke="#999" stroke-width="0.8"/>
<path d="M861.6 97L861.6 107" stroke="#999" stroke-width="0.8"/>
<rect x="849.5" y="107" width="17.2" height="18.3" fill="none" stroke="#1c1c1c" stroke-width="1.2"/>
<rect x="852.5" y="108.4" width="12.1" height="14.6" fill="#f4f6f4" stroke="#6f6f6f" stroke-width="0.9"/>
<path d="M852 124L865 124" stroke="#6f6f6f" stroke-width="0.9"/>
<rect x="856.6" y="125.3" width="3.6" height="1.7" fill="none" stroke="#1c1c1c" stroke-width="0.8"/>
<rect x="853.2" y="126.8" width="10.5" height="6" rx="1.6" fill="#3a3a3a"/>
<path d="M853.2 130.4L863.7 130.4" stroke="#111" stroke-width="1.2"/>
<path d="M854.1 132.6L854.1 169.9" stroke="#1c1c1c" stroke-width="1"/>
<path d="M862.8 132.6L862.8 169.9" stroke="#1c1c1c" stroke-width="1"/>
<path d="M854.1 137.4L862.8 137.4" stroke="#6f6f6f" stroke-width="0.9"/>
<path d="M854.1 161.2L862.8 161.2" stroke="#999" stroke-width="1.1"/>
<path d="M854.1 165.3L862.8 165.3" stroke="#1c1c1c" stroke-width="0.9"/>
<path d="M837 169.9L840.7 159.3L876.2 159.3L879.8 169.9" fill="none" stroke="#1c1c1c" stroke-width="0.9" />
<rect x="821.2" y="170.3" width="74.4" height="139" rx="5" fill="none" stroke="#111" stroke-width="1.5"/>
<path d="M858.4 157L858.4 309.5" stroke="#1c1c1c" stroke-width="1"/>
<path d="M821.2 280.5L898.4 280.5" stroke="#1c1c1c" stroke-width="1"/>
<rect x="830.7" y="252.6" width="55.4" height="54.6" rx="3" fill="none" stroke="#6f6f6f" stroke-width="1"/>
<circle cx="858.4" cy="280.5" r="12.7" fill="none" stroke="#1c1c1c" stroke-width="0.9"/>
<circle cx="839.4" cy="261.4" r="5.4" fill="none" stroke="#6f6f6f" stroke-width="0.8"/>
<circle cx="839.4" cy="261.4" r="3.9" fill="none" stroke="#111" stroke-width="1.5"/>
<circle cx="839.4" cy="299.6" r="5.4" fill="none" stroke="#6f6f6f" stroke-width="0.8"/>
<circle cx="839.4" cy="299.6" r="3.9" fill="none" stroke="#111" stroke-width="1.5"/>
<circle cx="877.4" cy="261.4" r="5.4" fill="none" stroke="#6f6f6f" stroke-width="0.8"/>
<circle cx="877.4" cy="261.4" r="3.9" fill="none" stroke="#111" stroke-width="1.5"/>
<circle cx="877.4" cy="299.6" r="5.4" fill="none" stroke="#6f6f6f" stroke-width="0.8"/>
<circle cx="877.4" cy="299.6" r="3.9" fill="none" stroke="#111" stroke-width="1.5"/>
<rect x="831.6" y="269.1" width="12.8" height="22.1" fill="none" stroke="#6f6f6f" stroke-width="0.9"/>
<rect x="833.2" y="270.8" width="9.8" height="18.8" fill="none" stroke="#999" stroke-width="0.8"/>
<rect x="872.4" y="269.1" width="12.8" height="22.1" fill="none" stroke="#6f6f6f" stroke-width="0.9"/>
<rect x="873.8" y="270.8" width="9.8" height="18.8" fill="none" stroke="#999" stroke-width="0.8"/>
<path d="M844.8 268.6L844.8 291.6" stroke="#111" stroke-width="1.8"/>
<path d="M872 268.6L872 291.6" stroke="#111" stroke-width="1.8"/>
<path d="M830.7 270.8L845 270.8" stroke="#6f6f6f" stroke-width="0.9"/>
<path d="M830.7 292.6L845 292.6" stroke="#6f6f6f" stroke-width="0.9"/>
<path d="M872 270.8L886.1 270.8" stroke="#6f6f6f" stroke-width="0.9"/>
<path d="M872 292.6L886.1 292.6" stroke="#6f6f6f" stroke-width="0.9"/>
<path d="M839.4 240.6L839.4 300.5" stroke="#1c1c1c" stroke-width="1"/>
<path d="M877.4 240.6L877.4 300.5" stroke="#1c1c1c" stroke-width="1"/>
<path d="M845 252.6L845 307.2" stroke="#1c1c1c" stroke-width="1"/>
<path d="M872.2 252.6L872.2 307.2" stroke="#1c1c1c" stroke-width="1"/>
<path d="M839.4 261.3L916.5 261.3" stroke="#1c1c1c" stroke-width="1"/>
<path d="M839.4 299.5L916.5 299.5" stroke="#1c1c1c" stroke-width="1"/>
<path d="M871.6 252.6L931 252.6" stroke="#1c1c1c" stroke-width="0.9"/>
<path d="M886 307.4L931 307.4" stroke="#1c1c1c" stroke-width="0.9"/>
<path d="M839.4 245L877.4 245" stroke="#6f6f6f" stroke-width="0.9"/>
<path d="M839.4 245L843.6 244.1L843.6 245.9Z" fill="#6f6f6f"/>
<path d="M877.4 245L873.2 244.1L873.2 245.9Z" fill="#6f6f6f"/>
<text x="858.4" y="243" font-family="'Liberation Serif', serif" font-size="10" text-anchor="middle" fill="#383838">32.<tspan dx="2.4">5</tspan></text>
<path d="M912.9 261.3L912.9 299.5" stroke="#6f6f6f" stroke-width="0.9"/>
<path d="M912.9 261.3L912 265.5L913.8 265.5Z" fill="#6f6f6f"/>
<path d="M912.9 299.5L912 295.3L913.8 295.3Z" fill="#6f6f6f"/>
<text x="0" y="0" transform="translate(911.2 280.4) rotate(-90)" font-family="'Liberation Serif', serif" font-size="10" text-anchor="middle" fill="#383838">32.<tspan dx="2.4">5</tspan></text>
<path d="M926.5 252.6L926.5 307.4" stroke="#6f6f6f" stroke-width="0.9"/>
<path d="M926.5 252.6L925.6 256.8L927.4 256.8Z" fill="#6f6f6f"/>
<path d="M926.5 307.4L925.6 303.2L927.4 303.2Z" fill="#6f6f6f"/>
<text x="0" y="0" transform="translate(924.8 281) rotate(-90)" font-family="'Liberation Serif', serif" font-size="10" text-anchor="middle" fill="#383838">47</text>
<path d="M831 303L831 329.8" stroke="#5a5a5a" stroke-width="1"/>
<path d="M886.1 303L886.1 329.8" stroke="#5a5a5a" stroke-width="1"/>
<path d="M831 325.6L886.1 325.6" stroke="#6f6f6f" stroke-width="0.9"/>
<path d="M831 325.6L835.2 324.7L835.2 326.5Z" fill="#6f6f6f"/>
<path d="M886.1 325.6L881.9 324.7L881.9 326.5Z" fill="#6f6f6f"/>
<text x="858.4" y="323.7" font-family="'Liberation Serif', serif" font-size="10" text-anchor="middle" fill="#383838">47</text>
<path d="M821.3 303L821.3 345.8" stroke="#5a5a5a" stroke-width="1"/>
<path d="M895.7 303L895.7 345.8" stroke="#5a5a5a" stroke-width="1"/>
<path d="M821.3 341.8L895.8 341.8" stroke="#6f6f6f" stroke-width="0.9"/>
<path d="M821.3 341.8L825.5 340.9L825.5 342.7Z" fill="#6f6f6f"/>
<path d="M895.8 341.8L891.6 340.9L891.6 342.7Z" fill="#6f6f6f"/>
<text x="858.4" y="339.5" font-family="'Liberation Serif', serif" font-size="10" text-anchor="middle" fill="#383838">64</text>
</svg>
</body>
</html>
